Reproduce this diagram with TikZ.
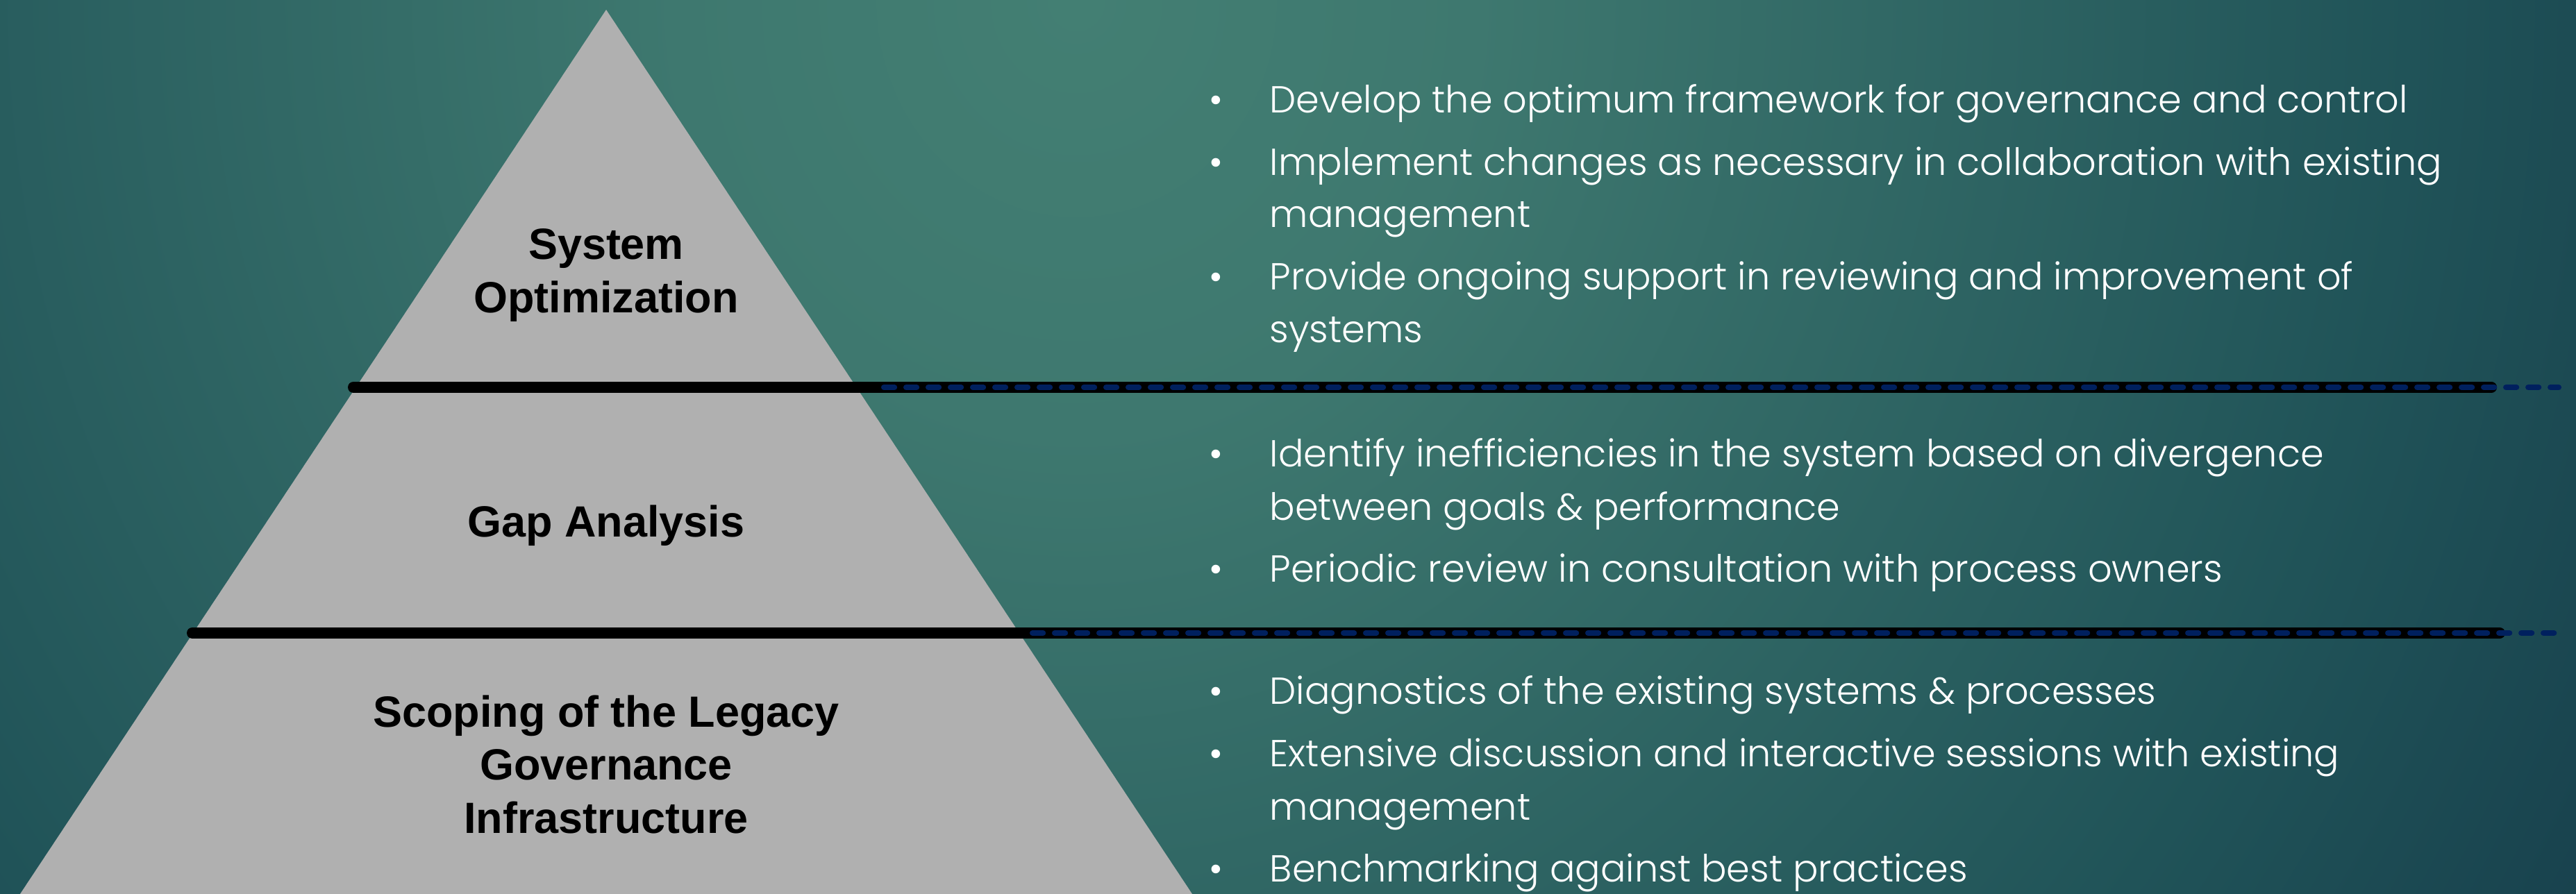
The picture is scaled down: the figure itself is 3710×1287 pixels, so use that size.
\documentclass[tikz,border=0pt]{standalone}
\usepackage{fontspec}
\newfontfamily\labelfont{Liberation Sans}
\newfontfamily\bodyfont{Poppins Light}
\definecolor{bgA}{HTML}{437F73}
\definecolor{bgA2}{HTML}{3E786F}
\definecolor{bgB}{HTML}{205358}
\definecolor{bgC}{HTML}{163D4B}
\definecolor{bgD}{HTML}{133646}
\definecolor{pyrgray}{HTML}{B0B0B0}
\definecolor{navy}{HTML}{00205E}
\pgfdeclareradialshading{bgshade}{\pgfpoint{0bp}{0bp}}{color(0bp)=(bgA); color(6bp)=(bgA2); color(20bp)=(bgB); color(27.5bp)=(bgC); color(31bp)=(bgD); color(50bp)=(bgD)}
\tikzset{
  tierlabel/.style={font=\labelfont\bfseries\fontsize{17.9}{21.5}\selectfont, text=black, anchor=base, inner sep=0pt},
  bodyline/.style={font=\bodyfont\fontsize{15.4}{18}\selectfont, text=white, anchor=base west, inner sep=0pt},
  bulletdot/.style={font=\bodyfont\fontsize{15.4}{18}\selectfont, text=white, anchor=base, inner sep=0pt},
  blackrule/.style={line width=4.55pt, black, line cap=round},
  navydash/.style={line width=2.3pt, navy, line cap=round, dash pattern=on 4.3pt off 4.8pt}
}
\begin{document}
\begin{tikzpicture}[x=0.01cm,y=-0.01cm]
\useasboundingbox (0,0) rectangle (3710,1287);
\begin{scope}
\clip (0,0) rectangle (3710,1287);
\shade[shading=bgshade] (-850,-2600) rectangle (3950,2600);
\fill[pyrgray] (873,14) -- (1725,1300) -- (21,1300) -- cycle;
\end{scope}
% rules
\coordinate (r1a) at (509,558);
\coordinate (r1b) at (3588,558);
\coordinate (r1c) at (1273,558);
\coordinate (r1d) at (3685,558);
\coordinate (r2a) at (277,912);
\coordinate (r2b) at (3600,912);
\coordinate (r2c) at (1487,912);
\coordinate (r2d) at (3685,912);
\draw[blackrule] (r1a) -- (r1b);
\draw[navydash] (r1c) -- (r1d);
\draw[blackrule] (r2a) -- (r2b);
\draw[navydash] (r2c) -- (r2d);
% tier labels
\node[tierlabel] (t1a) at (873,373) {System};
\node[tierlabel] (t1b) at (873,450) {Optimization};
\node[tierlabel] (t2a) at (873,773) {Gap Analysis};
\node[tierlabel] (t3a) at (873,1047) {Scoping of the Legacy};
\node[tierlabel] (t3b) at (873,1123) {Governance};
\node[tierlabel] (t3c) at (873,1200) {Infrastructure};
% bullets block 1
\node[bulletdot] (b11) at (1751,162) {•};
\node[bodyline] (l11) at (1828,162) {Develop the optimum framework for governance and control};
\node[bulletdot] (b12) at (1751,252) {•};
\node[bodyline] (l12) at (1828,252) {Implement changes as necessary in collaboration with existing};
\node[bodyline] (l12b) at (1828,327) {management};
\node[bulletdot] (b13) at (1751,417) {•};
\node[bodyline] (l13) at (1828,417) {Provide ongoing support in reviewing and improvement of};
\node[bodyline] (l13b) at (1828,493) {systems};
% block 2
\node[bulletdot] (b21) at (1751,672) {•};
\node[bodyline] (l21) at (1828,672) {Identify inefficiencies in the system based on divergence};
\node[bodyline] (l21b) at (1828,749) {between goals \& performance};
\node[bulletdot] (b22) at (1751,838) {•};
\node[bodyline] (l22) at (1828,838) {Periodic review in consultation with process owners};
% block 3
\node[bulletdot] (b31) at (1751,1014) {•};
\node[bodyline] (l31) at (1828,1014) {Diagnostics of the existing systems \& processes};
\node[bulletdot] (b32) at (1751,1104) {•};
\node[bodyline] (l32) at (1828,1104) {Extensive discussion and interactive sessions with existing};
\node[bodyline] (l32b) at (1828,1181) {management};
\node[bulletdot] (b33) at (1751,1270) {•};
\node[bodyline] (l33) at (1828,1270) {Benchmarking against best practices};
\end{tikzpicture}
\end{document}
